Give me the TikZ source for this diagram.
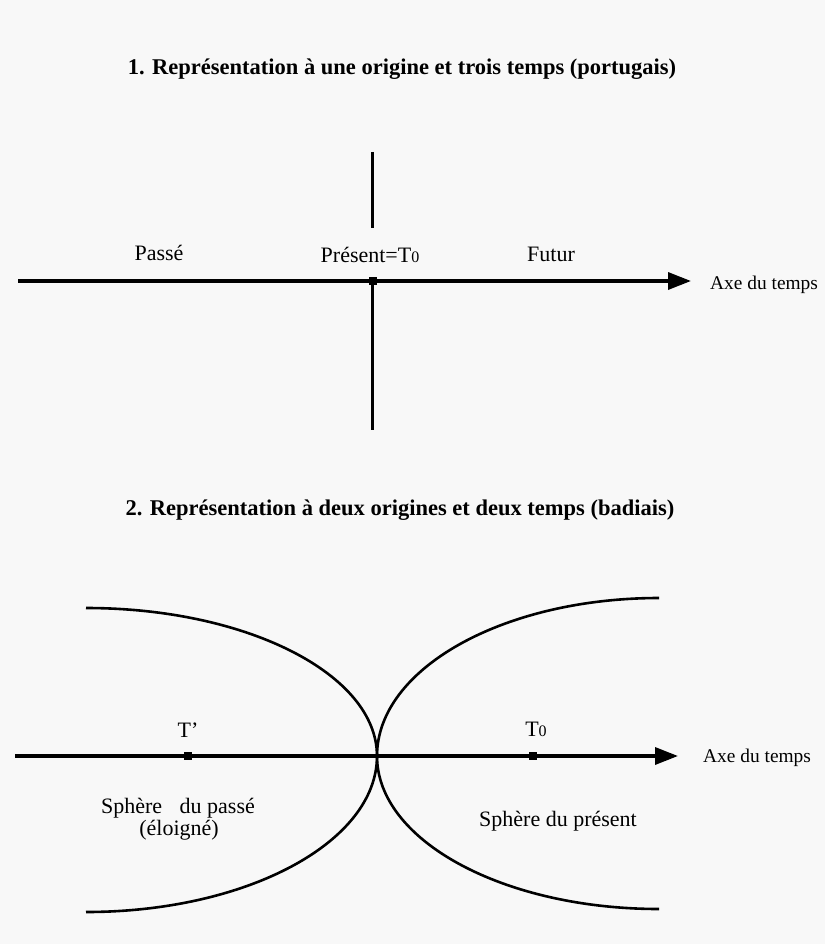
\documentclass[tikz,border=0pt]{standalone}
\usepackage{fontspec}
\setmainfont{Liberation Serif}
\usetikzlibrary{arrows.meta}
\definecolor{paper}{RGB}{248,248,248}
\newcommand{\Tzero}{T{\fontsize{16}{16}\selectfont 0}}
\begin{document}
\begin{tikzpicture}[x=1pt,y=-1pt,
  lbl/.style={inner sep=0pt, anchor=base, font=\fontsize{22}{24}\selectfont},
  ttl/.style={inner sep=0pt, anchor=base, font=\bfseries\fontsize{22.5}{24}\selectfont},
  axlbl/.style={inner sep=0pt, anchor=base west, font=\fontsize{19.4}{22}\selectfont},
  axisline/.style={line width=3.4pt, -{Triangle[length=23pt,width=17pt]}},
  vline/.style={line width=2.3pt},
  curve/.style={line width=2.6pt},
  tickmark/.style={fill=black, minimum size=8pt, inner sep=0pt, outer sep=0pt}]
\fill[paper] (0,0) rectangle (825,944);
\useasboundingbox (0,0) rectangle (825,944);
% ---------- Diagram 1 ----------
\node[ttl] (t1) at (402,75) {1. Représentation à une origine et trois temps (portugais)};
\coordinate (a1s) at (18,281);
\coordinate (a1e) at (691,281);
\draw[axisline] (a1s) -- (a1e);
\coordinate (v1top) at (372.5,152);
\coordinate (v1mid) at (372.5,228);
\node[tickmark] (p0) at (372.5,281) {};
\coordinate (v1bot) at (372.5,430);
\draw[vline] (v1top) -- (v1mid);
\draw[vline] (p0.center) -- (v1bot);
\node[lbl] (passe) at (159,260) {Passé};
\node[lbl] (present) at (370,262) {Présent=\Tzero};
\node[lbl] (futur) at (551,261) {Futur};
\node[axlbl] (axe1) at (710,289) {Axe du temps};
% ---------- Diagram 2 ----------
\node[ttl] (t2) at (400,515) {2. Représentation à deux origines et deux temps (badiais)};
\coordinate (a2s) at (15,756);
\coordinate (a2e) at (678,756);
\draw[axisline] (a2s) -- (a2e);
\node[tickmark] (tp) at (188,756) {};
\node[tickmark] (tz) at (533,756) {};
\coordinate (cA) at (86,608);
\coordinate (cB) at (659,598);
\draw[curve] (cA) arc[start angle=-90, end angle=0, x radius=291, y radius=148]
                  arc[start angle=0, end angle=90, x radius=291, y radius=156];
\draw[curve] (cB) arc[start angle=-90, end angle=-180, x radius=282, y radius=158]
                  arc[start angle=180, end angle=90, x radius=282, y radius=153];
\node[lbl] (tpl) at (188,737) {T'};
\node[lbl] (tzl) at (536,736) {\Tzero};
\node[axlbl] (axe2) at (703,762) {Axe du temps};
\node[lbl] (sp1) at (178,813) {Sphère\hspace{12pt} du passé};
\node[lbl] (sp1b) at (179,835) {(éloigné)};
\node[lbl] (sp2) at (558,826) {Sphère du présent};
\end{tikzpicture}
\end{document}
